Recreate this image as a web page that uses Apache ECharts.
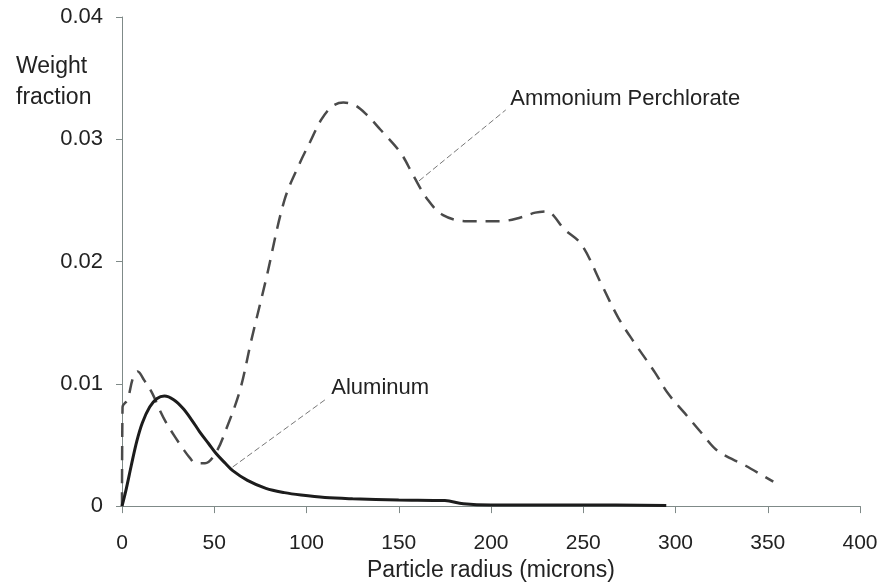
<!DOCTYPE html>
<html>
<head>
<meta charset="utf-8">
<script src="https://cdn.jsdelivr.net/npm/echarts@6/dist/echarts.min.js"></script>
<style>
  html, body { margin: 0; padding: 0; background: #fff; }
  #chart { width: 881px; height: 587px; }
</style>
</head>
<body>
<div id="chart"></div>
<script>
// particle size distributions, [radius (microns), weight fraction]
var aluminum = [
  [0, 0], [2, 0.0012], [5, 0.0033], [8, 0.0053], [11, 0.0068], [15, 0.0081],
  [19, 0.0088], [23, 0.0090], [28, 0.0087], [33, 0.0080], [38, 0.0070],
  [42, 0.0061], [47, 0.0051], [51, 0.0043], [56, 0.0035], [60, 0.0029],
  [68, 0.0021], [78, 0.00145], [88, 0.0011], [97, 0.0009], [110, 0.0007],
  [125, 0.0006], [150, 0.0005], [175, 0.00045], [185, 0.0002], [200, 0.0001],
  [250, 0.0001], [295, 0.00005]
];
var perchlorate = [
  [0, 0], [0.3, 0.0081], [3, 0.0087], [6, 0.0105], [8.5, 0.011], [12, 0.0103],
  [16.5, 0.0092], [20, 0.0080], [24, 0.0068], [29, 0.0056], [33, 0.0047],
  [37, 0.0039], [40, 0.0035], [45, 0.0035], [51, 0.0044], [56.5, 0.0063],
  [64, 0.0095], [70, 0.0135], [78, 0.0185], [88, 0.025], [96.5, 0.0281],
  [102, 0.0298], [108, 0.0316], [114, 0.0327], [120, 0.0330], [126, 0.0328],
  [132, 0.0321], [140, 0.0308], [151, 0.0289], [158, 0.0270], [165.5, 0.0251],
  [174, 0.0238], [187, 0.0233], [205, 0.0233], [216, 0.0236], [224, 0.0240],
  [230, 0.0241], [240, 0.0226], [249, 0.0214], [260, 0.0181], [269, 0.0154],
  [278, 0.0133], [289, 0.0109], [296, 0.0092], [305, 0.0076], [314, 0.0060],
  [323, 0.0045], [338, 0.0033], [353, 0.0020]
];
var xTicks = [0, 400, 50];
var yTicks = [0, 0.04, 0.01];

// annotation leaders: [from point, to point, label]
var leaderAP = [[161, 0.0266], [208, 0.0324], 'Ammonium Perchlorate'];
var leaderAl = [[60, 0.0032], [111, 0.0088], 'Aluminum'];

var font = 'Liberation Sans, Arial, sans-serif';
var chart = echarts.init(document.getElementById('chart'));

function leaderLine(d) {
  return {
    silent: true,
    symbol: 'none',
    lineStyle: { color: '#777', width: 1, type: [6, 3] },
    label: { show: false },
    data: [[{ coord: d[0] }, { coord: d[1] }]]
  };
}

function leaderText(d) {
  return {
    silent: true,
    symbol: 'circle',
    symbolSize: 1,
    itemStyle: { color: 'rgba(0,0,0,0)' },
    label: {
      show: true, position: 'right', distance: 4, offset: [0, -11],
      formatter: d[2], color: '#222', fontSize: 22, fontFamily: font
    },
    data: [{ coord: d[1] }]
  };
}

chart.setOption({
  animation: false,
  backgroundColor: '#fff',
  title: {
    text: 'Weight\nfraction',
    left: 11, top: 46,
    textStyle: { fontSize: 23, fontWeight: 'normal', color: '#222', fontFamily: font, lineHeight: 31 }
  },
  grid: { left: 122, right: 21, top: 17, bottom: 80 },
  xAxis: {
    type: 'value', min: xTicks[0], max: xTicks[1], interval: xTicks[2],
    name: 'Particle radius (microns)', nameLocation: 'middle', nameGap: 52,
    nameTextStyle: { fontSize: 23, color: '#222', fontFamily: font },
    axisLine: { lineStyle: { color: '#7f8a88', width: 1 } },
    axisTick: { show: true, length: 7, lineStyle: { color: '#7f8a88' } },
    axisLabel: { fontSize: 21, color: '#222', fontFamily: font, margin: 27 },
    splitLine: { show: false }
  },
  yAxis: {
    type: 'value', min: yTicks[0], max: yTicks[1], interval: yTicks[2],
    axisLine: { show: true, lineStyle: { color: '#7f8a88', width: 1 } },
    axisTick: { show: true, length: 6, lineStyle: { color: '#7f8a88' } },
    axisLabel: {
      fontSize: 22, color: '#222', fontFamily: font, margin: 19,
      formatter: function (v) { return v === 0 ? '0' : v.toFixed(2); }
    },
    splitLine: { show: false }
  },
  series: [
    {
      name: 'Ammonium Perchlorate', type: 'line', data: perchlorate,
      smooth: 0.35, showSymbol: false,
      lineStyle: { color: '#4a4a4a', width: 2.5, type: [14, 9] },
      markLine: leaderLine(leaderAP),
      markPoint: leaderText(leaderAP)
    },
    {
      name: 'Aluminum', type: 'line', data: aluminum,
      smooth: 0.35, showSymbol: false,
      lineStyle: { color: '#1c1c1c', width: 3 },
      markLine: leaderLine(leaderAl),
      markPoint: leaderText(leaderAl)
    }
  ]
});
</script>
</body>
</html>
